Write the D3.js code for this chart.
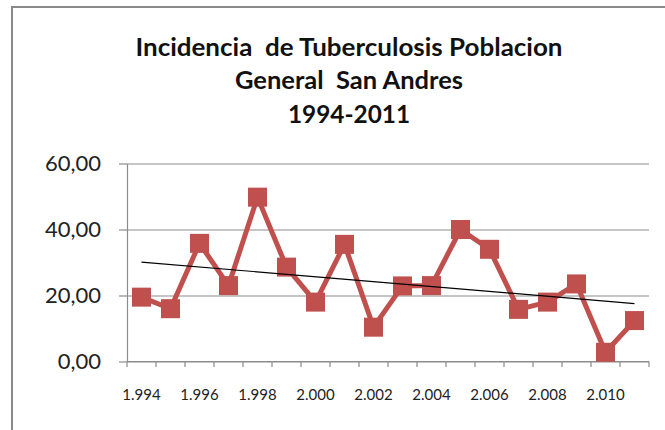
<!DOCTYPE html>
<html>
<head>
<meta charset="utf-8">
<script src="https://cdn.jsdelivr.net/npm/d3@7"></script>
<style>
  body { margin: 0; background: #fff; }
  svg text { font-family: Lato, "Open Sans", sans-serif; }
</style>
</head>
<body>
<div id="grafico"></div>
<script>
// datos
const anios = [1994, 1995, 1996, 1997, 1998, 1999, 2000, 2001, 2002, 2003, 2004, 2005, 2006, 2007, 2008, 2009, 2010, 2011];
const incidencia = [19.5, 16.0, 35.8, 23.0, 49.8, 28.6, 18.0, 35.5, 10.4, 22.9, 23.0, 40.0, 34.0, 15.8, 18.0, 23.5, 2.8, 12.4];
const yTicks = [0, 20, 40, 60];
const xEtiquetas = [1994, 1996, 1998, 2000, 2002, 2004, 2006, 2008, 2010];
const titulo = ["Incidencia  de Tuberculosis Poblacion", "General  San Andres", "1994-2011"];

const ancho = 665, alto = 430;
const margen = { top: 163.5, right: 16, bottom: 68.5, left: 127 };
const grAncho = ancho - margen.left - margen.right;
const grAlto = alto - margen.top - margen.bottom;

const es = d3.formatLocale({ decimal: ",", thousands: ".", grouping: [3], currency: ["", ""] });
const fmtY = es.format(".2f");
const fmtX = es.format(",");

const svg = d3.select("#grafico")
  .append("svg")
  .attr("width", ancho)
  .attr("height", alto);

// marco del grafico
svg.append("path")
  .attr("d", `M12,${alto} L12,7 L${ancho},7`)
  .attr("fill", "none")
  .attr("stroke", "#8a8a8a")
  .attr("stroke-width", 2);

// titulo
const anchos = [427, 228, 122];
titulo.forEach((t, i) => {
  svg.append("text")
    .attr("x", 349)
    .attr("y", 55.5 + i * 33.7)
    .attr("text-anchor", "middle")
    .style("white-space", "pre")
    .attr("font-size", "25px")
    .attr("font-weight", "bold")
    .attr("fill", "#111")
    .attr("textLength", anchos[i])
    .attr("lengthAdjust", "spacingAndGlyphs")
    .text(t);
});

const xSkala = d3.scaleBand()
  .domain(anios)
  .range([0, grAncho]);

const ySkala = d3.scaleLinear()
  .domain([0, 60])
  .range([grAlto, 0]);

const g = svg.append("g")
  .attr("transform", `translate(${margen.left},${margen.top})`);

// lineas de division
g.append("g")
  .call(d3.axisLeft(ySkala).tickValues(yTicks).tickSize(-grAncho).tickFormat(""))
  .call(s => s.select(".domain").remove())
  .selectAll("line")
  .attr("stroke", "#8c8c8c")
  .attr("stroke-width", 1.2);

// eje y
const ejeY = g.append("g")
  .call(d3.axisLeft(ySkala).tickValues(yTicks).tickSize(8).tickSizeOuter(0).tickPadding(18).tickFormat(fmtY));
ejeY.select(".domain").attr("stroke", "#8c8c8c").attr("stroke-width", 1.2);
ejeY.selectAll("line").attr("stroke", "#8c8c8c").attr("stroke-width", 1.2);
ejeY.selectAll("text")
  .attr("font-size", "22px")
  .attr("fill", "#222")
  .style("font-family", "Lato, sans-serif");

// eje x: marcas entre categorias
const limites = anios.map(d => xSkala(d)).concat([grAncho]);
const ejeX = g.append("g").attr("transform", `translate(0,${grAlto})`);
ejeX.append("line")
  .attr("x1", 0).attr("x2", grAncho)
  .attr("stroke", "#8c8c8c").attr("stroke-width", 1.2);
ejeX.selectAll(".marca")
  .data(limites)
  .enter()
  .append("line")
  .attr("class", "marca")
  .attr("x1", d => d).attr("x2", d => d)
  .attr("y1", 0).attr("y2", 5.5)
  .attr("stroke", "#8c8c8c").attr("stroke-width", 1.2);

const etiquetasX = g.append("g")
  .attr("transform", `translate(0,${grAlto})`)
  .call(d3.axisBottom(xSkala).tickValues(xEtiquetas).tickSize(0).tickFormat(fmtX));
etiquetasX.select(".domain").remove();
etiquetasX.selectAll("text")
  .attr("y", 38.5)
  .attr("dy", 0)
  .attr("font-size", "15px")
  .attr("fill", "#222")
  .style("font-family", "Lato, sans-serif");

// serie
const puntos = anios.map((a, i) => ({ anio: a, valor: incidencia[i] }));
const cx = d => xSkala(d.anio) + xSkala.bandwidth() / 2;

g.append("path")
  .datum(puntos)
  .attr("fill", "none")
  .attr("stroke", "#c0504d")
  .attr("stroke-width", 5)
  .attr("stroke-linejoin", "round")
  .attr("d", d3.line().x(cx).y(d => ySkala(d.valor)));

const lado = 19;
g.selectAll(".marcador")
  .data(puntos)
  .enter()
  .append("rect")
  .attr("class", "marcador")
  .attr("x", d => cx(d) - lado / 2)
  .attr("y", d => ySkala(d.valor) - lado / 2)
  .attr("width", lado)
  .attr("height", lado)
  .attr("fill", "#c0504d");

// linea de tendencia (regresion lineal)
const n = puntos.length;
const mx = d3.mean(puntos, (d, i) => i);
const my = d3.mean(puntos, d => d.valor);
const pend = d3.sum(puntos, (d, i) => (i - mx) * (d.valor - my)) / d3.sum(puntos, (d, i) => (i - mx) * (i - mx));
const inter = my - pend * mx;
const tendencia = [puntos[0], puntos[n - 1]].map(d => ({ anio: d.anio, valor: inter + pend * anios.indexOf(d.anio) }));

g.append("path")
  .datum(tendencia)
  .attr("fill", "none")
  .attr("stroke", "#000")
  .attr("stroke-width", 1.2)
  .attr("d", d3.line().x(cx).y(d => ySkala(d.valor)));
</script>
</body>
</html>
